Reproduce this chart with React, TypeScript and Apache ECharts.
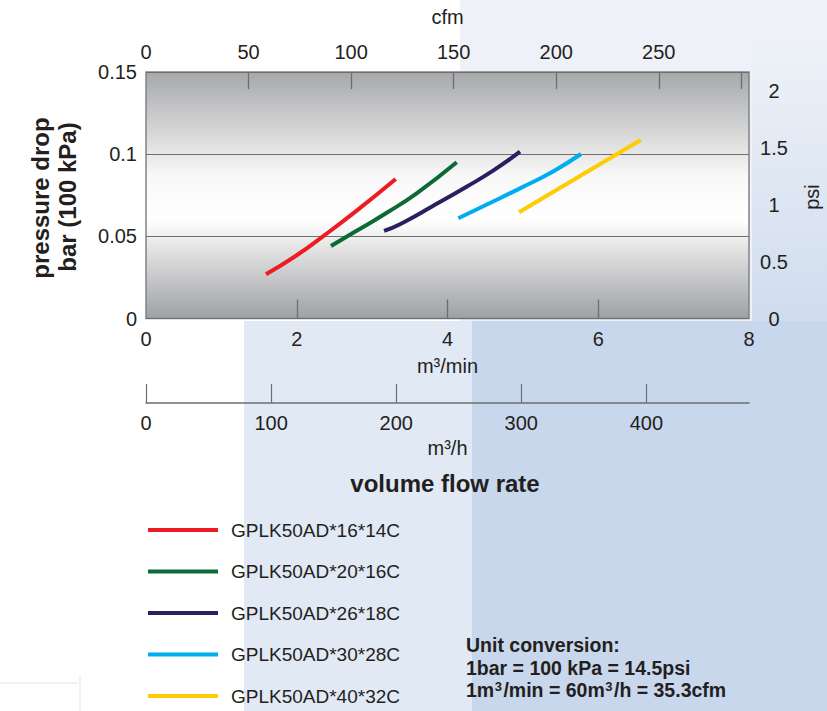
import React, { useEffect, useRef } from "react";
import * as echarts from "echarts";

// ---- data ----
const seriesNames = [
  "GPLK50AD*16*14C",
  "GPLK50AD*20*16C",
  "GPLK50AD*26*18C",
  "GPLK50AD*30*28C",
  "GPLK50AD*40*32C",
];
const seriesColors = ["#ed1c24", "#0b6a36", "#262262", "#00aeef", "#ffcb05"];

// [m3/min, bar]
const red = [[1.592, 0.0269], [2.0, 0.0385], [2.348, 0.05], [2.8, 0.0658], [3.313, 0.0849]];
const green = [[2.454, 0.0441], [2.8, 0.0535], [3.2, 0.0645], [3.6, 0.0765], [4.122, 0.0951]];
const navy = [[3.158, 0.0533], [3.37, 0.0574], [3.8, 0.0683], [4.253, 0.0802], [4.6, 0.0898], [4.962, 0.1015]];
const cyan = [[4.144, 0.061], [4.55, 0.07], [4.962, 0.0792], [5.4, 0.0895], [5.771, 0.1001]];
const yellow = [[4.949, 0.0646], [5.758, 0.0867], [6.563, 0.1086]];
const seriesData = [red, green, navy, cyan, yellow];

const m3minLabels = [0, 2, 4, 6, 8];
const m3minTicks = [2, 4, 6];
const cfmLabels = [0, 50, 100, 150, 200, 250];
const cfmTicks = [50, 100, 150, 200, 250, 290];
const barLabels = [0, 0.05, 0.1, 0.15];
const psiLabels = [0, 0.5, 1, 1.5, 2];
const m3hLabels = [0, 100, 200, 300, 400];

const unitLines = [
  "Unit conversion:",
  "1bar = 100 kPa = 14.5psi",
  "1m{sup|3}/min = 60m{sup|3}/h = 35.3cfm",
];

const FONT = "'Liberation Sans', Arial, Helvetica, sans-serif";
const INK = "#231f20";
const LINE = "#6d6e70";

export default function App() {
  const ref = useRef<HTMLDivElement>(null);

  useEffect(() => {
    if (!ref.current) return;
    const chart = echarts.init(ref.current, null, { renderer: "svg" });

    const label = (extra: any = {}) => ({
      color: INK,
      fontSize: 20,
      fontFamily: FONT,
      ...extra,
    });

    const option: any = {
      animation: false,
      backgroundColor: "#ffffff",
      textStyle: { fontFamily: FONT },
      grid: [
        {
          left: 146,
          top: 72,
          width: 603,
          height: 246.5,
          show: true,
          z: 0,
          borderColor: "#808285",
          borderWidth: 1.5,
          backgroundColor: {
            type: "linear",
            x: 0,
            y: 0,
            x2: 0,
            y2: 1,
            colorStops: [
              { offset: 0, color: "#a7a8aa" },
              { offset: 0.42, color: "#f8f8f8" },
              { offset: 0.6, color: "#ffffff" },
              { offset: 1, color: "#9fa0a2" },
            ],
          },
        },
        { left: 146, top: 383, width: 603, height: 20, show: false },
      ],
      xAxis: [
        {
          type: "value",
          gridIndex: 0,
          position: "bottom",
          z: 4,
          min: 0,
          max: 8,
          interval: 2,
          name: "m³/min",
          nameLocation: "middle",
          nameGap: 37,
          nameTextStyle: label(),
          axisLine: { show: false, onZero: false },
          axisTick: {
            show: true,
            inside: true,
            length: 19,
            customValues: m3minTicks,
            lineStyle: { color: LINE, width: 1.3 },
          },
          axisLabel: label({ margin: 10, customValues: m3minLabels }),
          splitLine: { show: false },
        },
        {
          type: "value",
          gridIndex: 0,
          position: "top",
          z: 4,
          min: 0,
          max: 294,
          interval: 50,
          name: "cfm",
          nameLocation: "middle",
          nameGap: 45,
          nameTextStyle: label(),
          axisLine: { show: false, onZero: false },
          axisTick: {
            show: true,
            inside: true,
            length: 17,
            customValues: cfmTicks,
            lineStyle: { color: LINE, width: 1.3 },
          },
          axisLabel: label({ margin: 10, customValues: cfmLabels }),
          splitLine: { show: false },
        },
        {
          type: "value",
          gridIndex: 1,
          position: "bottom",
          min: 0,
          max: 482,
          interval: 100,
          name: "m³/h",
          nameLocation: "middle",
          nameGap: 35,
          nameTextStyle: label(),
          axisLine: { show: true, onZero: false, lineStyle: { color: LINE, width: 1.5 } },
          axisTick: {
            show: true,
            inside: true,
            length: 19,
            customValues: m3hLabels,
            lineStyle: { color: LINE, width: 1.2 },
          },
          axisLabel: label({ margin: 10, customValues: m3hLabels }),
          splitLine: { show: false },
        },
      ],
      yAxis: [
        {
          type: "value",
          gridIndex: 0,
          position: "left",
          z: 3,
          min: 0,
          max: 0.15,
          interval: 0.05,
          axisLine: { show: false, onZero: false },
          axisTick: { show: false },
          axisLabel: label({ margin: 9, customValues: barLabels }),
          splitLine: { show: true, lineStyle: { color: LINE, width: 1.2 } },
        },
        {
          type: "value",
          gridIndex: 0,
          position: "right",
          min: 0,
          max: 2.17,
          interval: 0.5,
          axisLine: { show: false, onZero: false },
          axisTick: { show: false },
          axisLabel: label({ margin: 25, align: "center", customValues: psiLabels }),
          splitLine: { show: false },
        },
        {
          type: "value",
          gridIndex: 1,
          show: false,
          min: 0,
          max: 1,
        },
      ],
      legend: {
        orient: "vertical",
        left: 148,
        top: 520,
        height: 191,
        padding: 0,
        itemWidth: 70,
        itemHeight: 4,
        itemGap: 21.5,
        icon: "rect",
        data: seriesNames,
        textStyle: {
          color: INK,
          fontSize: 19,
          fontFamily: FONT,
          lineHeight: 20,
          padding: [0, 0, 0, 8],
        },
      },
      graphic: [
        { type: "rect", z: -10, silent: true, shape: { x: 460, y: 0, width: 367, height: 325 }, style: { fill: "#eef2f8" } },
        {
          type: "rect", z: -9, silent: true, shape: { x: 752, y: 40, width: 75, height: 290 },
          style: {
            fill: {
              type: "linear", x: 0, y: 0, x2: 0, y2: 1,
              colorStops: [
                { offset: 0, color: "#eef2f8" },
                { offset: 1, color: "#cfdcee" },
              ],
            },
          },
        },
        { type: "rect", z: -8, silent: true, shape: { x: 244, y: 321, width: 583, height: 390 }, style: { fill: "#e1e9f5" } },
        { type: "rect", z: -7, silent: true, shape: { x: 472, y: 321, width: 355, height: 390 }, style: { fill: "#c8d7ec" } },
        { type: "line", z: -6, silent: true, shape: { x1: 0, y1: 683, x2: 78, y2: 683 }, style: { stroke: "#ececec", lineWidth: 1.5 } },
        { type: "line", z: -6, silent: true, shape: { x1: 80, y1: 675, x2: 80, y2: 711 }, style: { stroke: "#ececec", lineWidth: 1.5 } },
        {
          type: "text", x: 40, y: 198, rotation: Math.PI / 2,
          style: { text: "pressure drop", font: `bold 24px ${FONT}`, fill: INK, align: "center", verticalAlign: "middle" },
        },
        {
          type: "text", x: 67, y: 197, rotation: Math.PI / 2,
          style: { text: "bar (100 kPa)", font: `bold 24px ${FONT}`, fill: INK, align: "center", verticalAlign: "middle" },
        },
        {
          type: "text", x: 812, y: 197, rotation: Math.PI / 2,
          style: { text: "psi", font: `20px ${FONT}`, fill: INK, align: "center", verticalAlign: "middle" },
        },
        {
          type: "text", x: 445, y: 483,
          style: { text: "volume flow rate", font: `bold 24px ${FONT}`, fill: INK, align: "center", verticalAlign: "middle" },
        },
        {
          type: "text", x: 466, y: 634,
          style: {
            text: unitLines.join("\n"),
            fontFamily: FONT,
            fontWeight: "bold",
            fontSize: 19.5,
            lineHeight: 22.5,
            fill: INK,
            align: "left",
            verticalAlign: "top",
            rich: {
              sup: {
                fontFamily: FONT,
                fontWeight: "bold",
                fontSize: 13,
                lineHeight: 22.5,
                padding: [0, 1.5, 7, 0.5],
                fill: INK,
              },
            },
          },
        },
      ],
      series: seriesNames.map((name, i) => ({
        name,
        type: "line",
        xAxisIndex: 0,
        yAxisIndex: 0,
        data: seriesData[i],
        smooth: true,
        showSymbol: false,
        color: seriesColors[i],
        lineStyle: { width: 4, color: seriesColors[i] },
        z: 5,
      })),
    };

    chart.setOption(option);
    return () => chart.dispose();
  }, []);

  return (
    <div
      ref={ref}
      style={{ position: "absolute", left: 0, top: 0, width: 827, height: 711 }}
    />
  );
}
